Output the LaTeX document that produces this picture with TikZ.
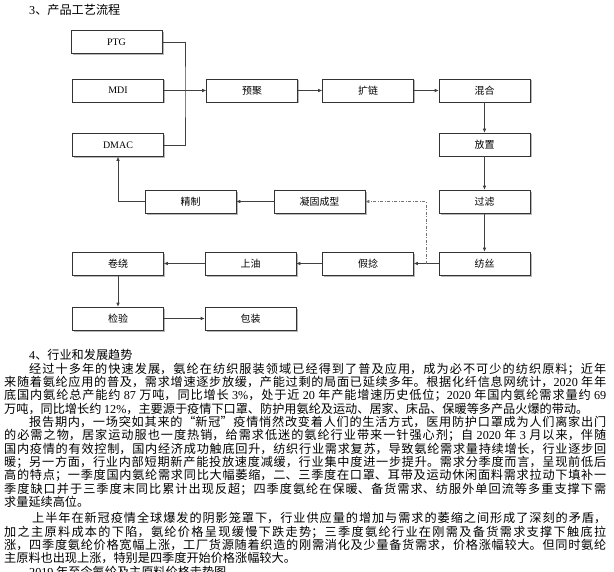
\documentclass[tikz,border=0pt]{standalone}
\usepackage{fontspec}
\setmainfont{Noto Sans CJK SC}
\newfontfamily\lat{Liberation Serif}
\usetikzlibrary{arrows.meta,shadows}
\XeTeXlinebreaklocale "zh"
\XeTeXlinebreakskip=0pt plus 3pt

\tikzset{
  procbox/.style={draw=black!80, line width=0.6pt, fill=white,
    minimum width=91bp, minimum height=23bp, inner sep=0pt,
    font=\fontsize{10}{12}\selectfont,
    drop shadow={shadow xshift=1.5bp, shadow yshift=-1.5bp, fill=black!40, opacity=0.7}},
  link/.style={draw=black!75, line width=0.6pt},
  flow/.style={link, -{Latex[length=4bp,width=3.5bp]}},
  txt/.style={anchor=base west, inner sep=0pt, font=\fontsize{12.2}{13}\selectfont}
}
% justified text lines
\newcommand{\jline}[2]{\parbox[b]{#1}{\spaceskip=3.2bp plus 0.5bp\parfillskip=0pt\relax #2}}
\newcommand{\fullline}[1]{\jline{602bp}{#1}}
\newcommand{\indline}[1]{\jline{577bp}{#1}}

\begin{document}
\begin{tikzpicture}[x=1bp, y=-1bp]
    \useasboundingbox (0,0) rectangle (614,572);

    % flow chart
    \node[txt] (h3) at (29,14.5) {{\lat 3}、产品工艺流程};

    \node[procbox] (ptg) at (116.5,42) {\lat PTG};
    \node[procbox] (mdi) at (118,90.5) {\lat MDI};
    \node[procbox] (dmac) at (118,145) {\lat DMAC};
    \node[procbox] (yuju) at (252,90.5) {预聚};
    \node[procbox] (kuolian) at (368,90.5) {扩链};
    \node[procbox] (hunhe) at (484.5,90.5) {混合};
    \node[procbox] (fangzhi) at (484.5,144.5) {放置};
    \node[procbox] (guolv) at (484.5,201.5) {过滤};
    \node[procbox] (fangsi) at (484.5,263.5) {纺丝};
    \node[procbox] (jianian) at (368,263.5) {假捻};
    \node[procbox] (shangyou) at (250.5,263.5) {上油};
    \node[procbox] (juanrao) at (118,263.5) {卷绕};
    \node[procbox] (jianyan) at (118,318.5) {检验};
    \node[procbox] (baozhuang) at (250.5,318.5) {包装};
    \node[procbox] (jingzhi) at (190.5,201.5) {精制};
    \node[procbox] (ningu) at (319.5,201.5) {凝固成型};

    \coordinate (j) at (185,90.5);
    \coordinate (tap) at (426,263.5);

    \draw[link] (ptg.east) -| (j) |- (dmac.east);
    \draw[flow] (mdi) -- (yuju);
    \draw[flow] (yuju) -- (kuolian);
    \draw[flow] (kuolian) -- (hunhe);
    \draw[flow] (hunhe) -- (fangzhi);
    \draw[flow] (fangzhi) -- (guolv);
    \draw[flow] (guolv) -- (fangsi);
    \draw[flow] (fangsi) -- (jianian);
    \draw[flow] (jianian) -- (shangyou);
    \draw[flow] (shangyou) -- (juanrao);
    \draw[flow] (juanrao) -- (jianyan);
    \draw[flow] (jianyan) -- (baozhuang);
    \draw[flow, draw=black!55, dash pattern=on 3bp off 1.5bp on 1bp off 1.5bp] (tap) |- (ningu);
    \draw[flow] (ningu) -- (jingzhi);
    \draw[flow] (jingzhi) -| (dmac);

    % text
    \node[txt] (t0) at (29,359.6) {{\lat 4}、行业和发展趋势};
    \node[txt] (t1) at (29,373) {\indline{经过十多年的快速发展，氨纶在纺织服装领域已经得到了普及应用，成为必不可少的纺织原料；近年}};
    \node[txt] (t2) at (4,386.3) {\fullline{来随着氨纶应用的普及，需求增速逐步放缓，产能过剩的局面已延续多年。根据化纤信息网统计，{\lat 2020} 年年}};
    \node[txt] (t3) at (4,399.7) {\fullline{底国内氨纶总产能约 {\lat 87} 万吨，同比增长 {\lat 3\%}，处于近 {\lat 20} 年产能增速历史低位；{\lat 2020} 年国内氨纶需求量约 {\lat 69}}};
    \node[txt] (t4) at (4,413) {万吨，同比增长约 {\lat 12\%}，主要源于疫情下口罩、防护用氨纶及运动、居家、床品、保暖等多产品火爆的带动。};
    \node[txt] (t5) at (29,426.4) {\indline{报告期内，一场突如其来的“新冠”疫情悄然改变着人们的生活方式，医用防护口罩成为人们离家出门}};
    \node[txt] (t6) at (4,439.7) {\fullline{的必需之物，居家运动服也一度热销，给需求低迷的氨纶行业带来一针强心剂；自 {\lat 2020} 年 {\lat 3} 月以来，伴随}};
    \node[txt] (t7) at (4,453.1) {\fullline{国内疫情的有效控制，国内经济成功触底回升，纺织行业需求复苏，导致氨纶需求量持续增长，行业逐步回}};
    \node[txt] (t8) at (4,466.4) {\fullline{暖；另一方面，行业内部短期新产能投放速度减缓，行业集中度进一步提升。需求分季度而言，呈现前低后}};
    \node[txt] (t9) at (4,479.8) {\fullline{高的特点；一季度国内氨纶需求同比大幅萎缩，二、三季度在口罩、耳带及运动休闲面料需求拉动下填补一}};
    \node[txt] (t10) at (4,493.1) {\fullline{季度缺口并于三季度末同比累计出现反超；四季度氨纶在保暖、备货需求、纺服外单回流等多重支撑下需}};
    \node[txt] (t11) at (4,506.5) {求量延续高位。};
    \node[txt] (t12) at (32,522.8) {\jline{574bp}{上半年在新冠疫情全球爆发的阴影笼罩下，行业供应量的增加与需求的萎缩之间形成了深刻的矛盾，}};
    \node[txt] (t13) at (4,536.2) {\fullline{加之主原料成本的下陷，氨纶价格呈现缓慢下跌走势；三季度氨纶行业在刚需及备货需求支撑下触底拉}};
    \node[txt] (t14) at (4,549.5) {\fullline{涨，四季度氨纶价格宽幅上涨，工厂货源随着织造的刚需消化及少量备货需求，价格涨幅较大。但同时氨纶}};
    \node[txt] (t15) at (4,562.9) {主原料也出现上涨，特别是四季度开始价格涨幅较大。};
    \node[txt] (t16) at (29,576.2) {{\lat 2019} 年至今氨纶及主原料价格走势图};
\end{tikzpicture}
\end{document}
